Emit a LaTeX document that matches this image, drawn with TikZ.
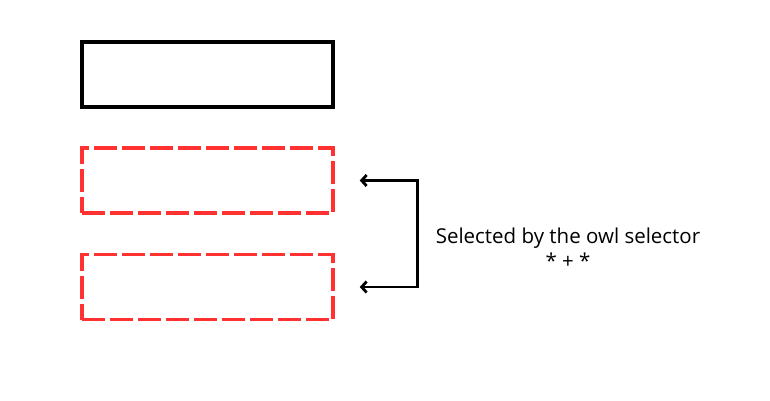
\documentclass[tikz,border=0pt]{standalone}
\usepackage{fontspec}
\setmainfont{Open Sans}
\usetikzlibrary{arrows.meta}
\definecolor{selred}{HTML}{FF3131}
\tikzset{
    plainbox/.style={draw=black, line width=3.5pt, minimum width=251pt, minimum height=65pt, inner sep=0pt},
    selbox/.style={draw=selred, line width=3.5pt, dash pattern=on 23pt off 5pt, minimum width=251pt, minimum height=65pt, inner sep=0pt},
    bracket/.style={line width=2.8pt, {Straight Barb[length=5pt,width=11pt]}-{Straight Barb[length=5pt,width=11pt]}, shorten <=25pt, shorten >=25pt}
}
\begin{document}
\begin{tikzpicture}[x=1pt, y=-1pt]
    \useasboundingbox (0,0) rectangle (770,400);
    % Boxes
    \node[plainbox] (first) at (207.5,74.5) {};
    \node[selbox] (secA) at (207.5,180.5) {};
    \node[selbox] (secB) at (207.5,287) {};
    % Bracket with arrows
    \draw[bracket] (secA.east) -- ++(83,0) |- (secB.east);
    % Label
    \node[font=\fontsize{20.5pt}{25pt}\selectfont, align=center] (lbl) at (568,248) {Selected by the owl selector\\* + *};
\end{tikzpicture}
\end{document}
